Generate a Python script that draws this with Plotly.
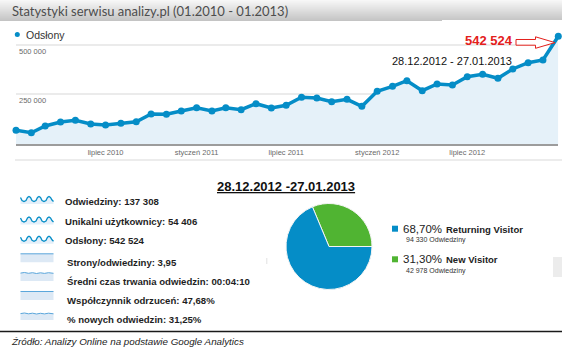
import pandas as pd
import plotly.graph_objects as go

W, H = 562, 349

# ---------------- data ----------------
MONTHS = pd.date_range("2010-01-01", "2013-01-01", freq="MS")
PAGEVIEWS = [69000, 56900, 90600, 110800, 119300, 100700, 95700, 104200, 112300,
             151100, 149500, 166200, 182800, 166200, 182800, 172700, 202900, 181300,
             194900, 235100, 231600, 213000, 225100, 189800, 265300, 290500, 318700,
             268400, 302100, 297100, 338900, 350900, 330800, 377600, 409300, 422900,
             542524]
X_TICK_DATES = ["2010-07-01", "2011-01-01", "2011-07-01", "2012-01-01", "2012-07-01"]
X_TICK_LABELS = ["lipiec 2010", "styczeń 2011", "lipiec 2011", "styczeń 2012", "lipiec 2012"]
Y_TICKS = [250000, 500000]
Y_TICK_LABELS = ["250 000", "500 000"]

TITLE = "Statystyki serwisu analizy.pl (01.2010 - 01.2013)"
SERIES_NAME = "Odsłony"
PERIOD_LABEL = "28.12.2012 - 27.01.2013"
PERIOD_HEADER = "28.12.2012 -27.01.2013"

STAT_LABELS = ["Odwiedziny", "Unikalni użytkownicy", "Odsłony", "Strony/odwiedziny",
               "Średni czas trwania odwiedzin", "Współczynnik odrzuceń", "% nowych odwiedzin"]
STAT_VALUES = ["137 308", "54 406", "542 524", "3,95", "00:04:10", "47,68%", "31,25%"]

VISITOR_TYPES = ["Returning Visitor", "New Visitor"]
VISITS = [94330, 42978]
VISIT_UNIT = "Odwiedziny"
SOURCE = "Źródło: Analizy Online na podstawie Google Analytics"

# ---------------- styling ----------------
BLUE = "#058dc7"
GREEN = "#50b432"
RED = "#e3201c"
ARIAL = "Liberation Sans, Arial, sans-serif"


def fmt_int(v):
    return f"{v:,}".replace(",", " ")


def fmt_pct(share):
    return f"{share * 100:.2f}".replace(".", ",") + "%"


def px(x):
    return x / W


def py(y):
    return 1 - y / H


annotations = []
shapes = []


def text(x, y, s, size, color="#222", family=ARIAL, xanchor="left", yanchor="middle"):
    annotations.append(dict(x=px(x), y=py(y), xref="paper", yref="paper", text=s,
                            showarrow=False, xanchor=xanchor, yanchor=yanchor,
                            font=dict(size=size, color=color, family=family)))


def rect(x0, y0, x1, y1, fill, line=None, layer="above", lw=1):
    shapes.append(dict(type="rect", xref="paper", yref="paper",
                       x0=px(x0), x1=px(x1), y0=py(y1), y1=py(y0),
                       fillcolor=fill, layer=layer,
                       line=dict(width=lw if line else 0, color=line or fill)))


def hline(x0, x1, y, color, width=1):
    shapes.append(dict(type="line", xref="paper", yref="paper",
                       x0=px(x0), x1=px(x1), y0=py(y), y1=py(y),
                       line=dict(color=color, width=width)))


def path(points, fill=None, line=None, lw=1, close=True):
    d = "M " + " L ".join(f"{px(a):.5f},{py(b):.5f}" for a, b in points)
    if close:
        d += " Z"
    shapes.append(dict(type="path", xref="paper", yref="paper", path=d,
                       fillcolor=fill or "rgba(0,0,0,0)",
                       line=dict(color=line or "rgba(0,0,0,0)", width=lw if line else 0)))


fig = go.Figure()

# ---------------- header bar ----------------
BAR_H = 21
top_rgb, bot_rgb = (247, 247, 247), (196, 196, 196)
for i in range(BAR_H):
    t = i / (BAR_H - 1)
    c = tuple(round(a + (b - a) * t) for a, b in zip(top_rgb, bot_rgb))
    rect(0, i, W, i + 1.05, "rgb(%d,%d,%d)" % c, layer="below")
text(10, 10.5, TITLE, 13, color="#4d4d4d", family="Lato, Open Sans, sans-serif")

# ---------------- line chart ----------------
fig.add_trace(go.Scatter(
    x=MONTHS, y=PAGEVIEWS, mode="lines+markers", name=SERIES_NAME,
    line=dict(color=BLUE, width=3.5), marker=dict(size=7, color=BLUE),
    fill="tozeroy", fillcolor="#e5f1f9", cliponaxis=False, hoverinfo="x+y",
))

Y0_PX, Y500_PX = 144.0, 44.7
Y_MAX = 560000
y_top_px = Y0_PX - Y_MAX * (Y0_PX - Y500_PX) / 500000

fig.update_xaxes(
    type="date", range=[MONTHS[0], MONTHS[-1]], domain=[px(16), px(558.3)],
    tickvals=X_TICK_DATES, ticktext=X_TICK_LABELS, showgrid=False, zeroline=False,
    showline=True, linecolor="#9c9c9c", linewidth=2, ticks="",
    tickfont=dict(size=7.5, color="#6a6a6a", family=ARIAL),
)
fig.update_yaxes(
    range=[0, Y_MAX], domain=[py(Y0_PX), py(y_top_px)], tickvals=Y_TICKS,
    showticklabels=False, showgrid=True, gridcolor="#ebebeb", gridwidth=1.5,
    zeroline=False, showline=False,
)

# axis labels inside the plot, under their grid lines
for v, lab in zip(Y_TICKS, Y_TICK_LABELS):
    annotations.append(dict(x=px(17), y=v, xref="paper", yref="y", text=lab,
                            showarrow=False, xanchor="left", yanchor="middle", yshift=-6.5,
                            font=dict(size=7.5, color="#6a6a6a", family=ARIAL)))

# legend
shapes.append(dict(type="circle", xref="paper", yref="paper",
                   x0=px(14.8), x1=px(19.8), y0=py(37), y1=py(32),
                   fillcolor=BLUE, line=dict(width=0)))
text(24, 34.5, SERIES_NAME, 10.5, color="#333")

# white label box hiding the top grid line, then the call-out
rect(442, 20, W, 47.5, "white", layer="between")
text(463, 40, "<b>" + fmt_int(PAGEVIEWS[-1]) + "</b>", 13, color=RED)
path([(516, 39.5), (535.5, 39.5), (535.5, 36.8), (555, 42.6), (535.5, 48.3),
      (535.5, 45.2), (516, 45.2)], fill="white", line=RED, lw=1)
text(390, 60.7, PERIOD_LABEL, 11, color="#111")

# separator under the chart
hline(15, W, 160, "#d9d9d9", 1)

# ---------------- summary ----------------
text(285.5, 186, "<b><u>" + PERIOD_HEADER + "</u></b>", 13, color="#111", xanchor="center")

ROW_Y = [201, 221.5, 240.8, 262.3, 281, 300, 319]
for i, (lab, val) in enumerate(zip(STAT_LABELS, STAT_VALUES)):
    cy = ROW_Y[i]
    if i < 3:
        # wavy sparkline icon
        wave = [(0, 1), (1.5, 4), (3.5, 5), (5.5, 4), (7, 1), (8.5, 0), (10, 1),
                (11.5, 4), (13.5, 5), (15.5, 4), (17, 1), (18.5, 0), (20, 1), (21.5, 4),
                (23.5, 5), (25.5, 4), (27, 1), (28.5, 0), (30, 1), (31.5, 3.5), (33, 5)]
        pts = [(20.5 + dx, cy - 4.5 + dy) for dx, dy in wave]
        path(pts + [(53.5, cy + 3), (20.5, cy + 3)], fill="#e4eff9")
        path(pts, line=BLUE, lw=1.3, close=False)
        tx = 63.3
    else:
        top = cy - 8.5 if i < 6 else cy - 6
        bottom = cy if i < 6 else cy + 1
        if i in (4, 6):
            ripple = [(0, 0.6), (4, 0), (8, 0.8), (12, 0.2), (16, 1), (20, 0.3),
                      (24, 0.9), (28, 0.2), (33, 0.8)]
        else:
            ripple = [(0, 0), (33, 0)]
        pts = [(20.5 + dx, top + dy) for dx, dy in ripple]
        path(pts + [(53.5, bottom), (20.5, bottom)], fill="#dde9f5")
        path(pts, line="#5aa6db", lw=1, close=False)
        tx = 65
    text(tx, cy, "<b>" + lab + ": " + val + "</b>", 9.6, color="#1e1e1e")

# ---------------- visitor pie ----------------
total = sum(VISITS)
new_share = VISITS[1] / total
fig.add_trace(go.Pie(
    values=[VISITS[1], VISITS[0]], labels=[VISITOR_TYPES[1], VISITOR_TYPES[0]],
    marker=dict(colors=[GREEN, BLUE], line=dict(color="#f4f4f4", width=1)),
    sort=False, direction="clockwise", rotation=90 - 360 * new_share,
    textinfo="none", showlegend=False, hole=0,
    domain=dict(x=[px(329 - 43), px(329 + 43)], y=[py(246.5 + 43), py(246.5 - 43)]),
))

LEG_Y = [228.7, 259.3]
LEG_COLORS = [BLUE, GREEN]
for i in range(2):
    cy = LEG_Y[i]
    rect(392, cy - 3, 398, cy + 3, LEG_COLORS[i])
    text(401, cy, fmt_pct(VISITS[i] / total), 11.5, color="#222")
    text(443.5, cy + 0.5, "<b>" + VISITOR_TYPES[i] + "</b>", 9.5, color="#222")
    text(404, cy + 11.2, fmt_int(VISITS[i]) + " " + VISIT_UNIT, 7, color="#333")

# stray page chrome at right edge
rect(553, 257, W, 277, "#ececec")
rect(266.3, 258, 267.3, 264, "#e2e2e2")

# ---------------- footer ----------------
hline(0, W, 331.5, "#1a1a1a", 1.5)
text(9, 341.5, "<i>" + SOURCE + "</i>", 9.8, color="#222")

fig.update_layout(
    width=W, height=H, margin=dict(l=0, r=0, t=0, b=0),
    paper_bgcolor="white", plot_bgcolor="white", showlegend=False,
    annotations=annotations, shapes=shapes,
)

fig.write_html("out.html")
